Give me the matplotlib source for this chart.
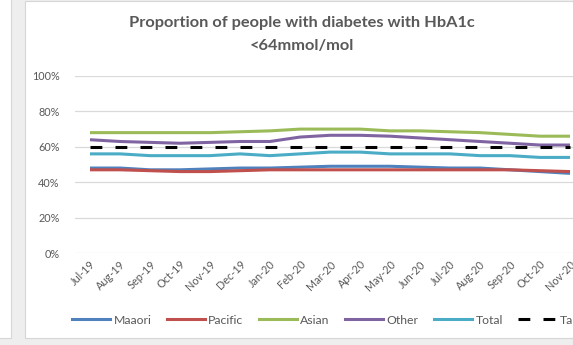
import matplotlib.pyplot as plt
from matplotlib.patches import Rectangle
from matplotlib.lines import Line2D

plt.rcParams['font.family'] = ['Lato', 'DejaVu Sans']
plt.rcParams['lines.scale_dashes'] = False

# Monthly proportions (%) by ethnicity
months = ['Jul-19', 'Aug-19', 'Sep-19', 'Oct-19', 'Nov-19', 'Dec-19', 'Jan-20', 'Feb-20',
          'Mar-20', 'Apr-20', 'May-20', 'Jun-20', 'Jul-20', 'Aug-20', 'Sep-20', 'Oct-20', 'Nov-20']
maaori = [48, 48, 47, 47, 47.5, 48, 48, 48.5, 49, 49, 49, 48.5, 48, 48, 47, 46, 45]
pacific = [47, 47, 46.5, 46, 46, 46.5, 47, 47, 47, 47, 47, 47, 47, 47, 47, 46.5, 46]
asian = [68, 68, 68, 68, 68, 68.5, 69, 70, 70, 70, 69, 69, 68.5, 68, 67, 66, 66]
other = [64, 63, 62.5, 62, 62.5, 63, 63, 65.5, 66.5, 66.5, 66, 65, 64, 63, 62, 61, 61]
total = [56, 56, 55, 55, 55, 56, 55, 56, 57, 57, 56, 56, 56, 55, 55, 54, 54]
target = [60] * len(months)

series = [
    ('Maaori', maaori, '#4F81BD'),
    ('Pacific', pacific, '#C0504D'),
    ('Asian', asian, '#9BBB59'),
    ('Other', other, '#8064A2'),
    ('Total', total, '#4BACC6'),
]

W, H = 573, 345
fig = plt.figure(figsize=(W / 100, H / 100), dpi=100)
fig.patch.set_facecolor('#eeeeee')


def panel(x0, y0, x1, y1):
    return Rectangle((x0 / W, 1 - y1 / H), (x1 - x0) / W, (y1 - y0) / H,
                     transform=fig.transFigure, facecolor='white',
                     edgecolor='#d6d6d6', lw=0.8, zorder=-10)


fig.patches.extend([panel(-2, -2, 11, 338), panel(25, 1, W + 5, 338)])

ax = fig.add_axes([75 / W, 1 - 253 / H, 1 - 75 / W, (253 - 76) / H])
ax.set_facecolor('none')
x = list(range(len(months)))
for name, vals, col in series:
    ax.plot(x, [v / 100 for v in vals], color=col, lw=2.2, label=name,
            solid_capstyle='butt')
ax.plot(x, [v / 100 for v in target], color='black', lw=2.2, dashes=(8.5, 9.5),
        dash_capstyle='butt', label='Target')

ax.set_xlim(-0.5, 16.1)
ax.set_ylim(0, 1)
ax.set_yticks([0, 0.2, 0.4, 0.6, 0.8, 1.0])
ax.set_yticklabels(['0%', '20%', '40%', '60%', '80%', '100%'])
ax.set_xticks(x)
ax.set_xticklabels(months, rotation=45, ha='right', rotation_mode='anchor')
ax.grid(axis='y', color='#d9d9d9', lw=0.9)
ax.set_axisbelow(True)
for s in ax.spines.values():
    s.set_visible(False)
ax.tick_params(axis='both', length=0, colors='#595959', labelsize=7.8)
ax.tick_params(axis='y', pad=11)
ax.tick_params(axis='x', pad=4)

tc = '#595959'
fig.text(302 / W, 1 - 23 / H, 'Proportion of people with diabetes with HbA1c',
         ha='center', va='center', fontsize=11.8, fontweight='bold', color=tc)
fig.text(302 / W, 1 - 46 / H, '<64mmol/mol',
         ha='center', va='center', fontsize=11.8, fontweight='bold', color=tc)

handles = [Line2D([], [], color=c, lw=2.2) for _, _, c in series]
handles.append(Line2D([], [], color='black', lw=2.2, dashes=(8.5, 9.5)))
labels = [n for n, _, _ in series] + ['Target']
leg = fig.legend(handles, labels, loc='center left', bbox_to_anchor=(72 / W, 1 - 320 / H),
                 ncol=6, frameon=False, fontsize=8.8, handlelength=3.1,
                 handletextpad=0.3, columnspacing=1.25, borderaxespad=0, borderpad=0)
for t in leg.get_texts():
    t.set_color(tc)

fig.savefig('out.png', dpi=100, facecolor=fig.get_facecolor())
